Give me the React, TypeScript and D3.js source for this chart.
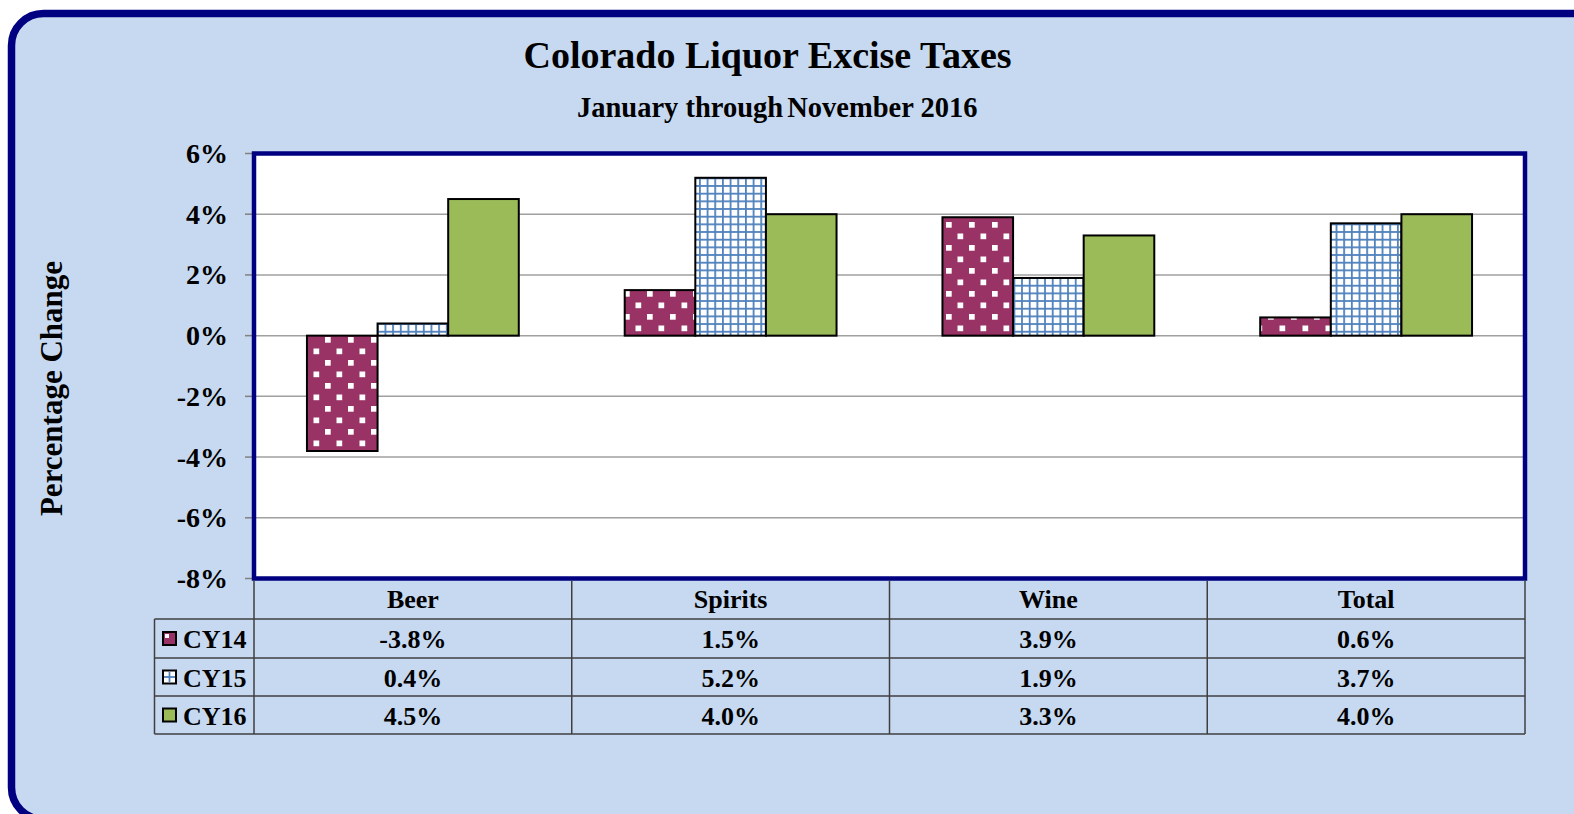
import React, { useEffect } from 'react';
import * as d3 from 'd3';

const categories = ['Beer', 'Spirits', 'Wine', 'Total'];
const seriesNames = ['CY14', 'CY15', 'CY16'];
const cy14 = [-3.8, 1.5, 3.9, 0.6];
const cy15 = [0.4, 5.2, 1.9, 3.7];
const cy16 = [4.5, 4.0, 3.3, 4.0];
const yTicks = [-8, -6, -4, -2, 0, 2, 4, 6];
const titleText = 'Colorado Liquor Excise Taxes';
const subtitleA = 'January through';
const subtitleB = 'November 2016';
const yAxisTitle = 'Percentage Change';

const FONT = "'Liberation Serif','Times New Roman',serif";
const NAVY = '#000080';
const BG = '#C6D9F1';
const MAROON = '#993366';
const BLUE = '#4F81BD';
const GREEN = '#9BBB59';
const LINE = '#3F3F3F';

const locale = d3.formatLocale({
  decimal: '.',
  thousands: ',',
  grouping: [3],
  currency: ['$', ''],
  minus: '-',
});

export default function App() {
  useEffect(() => {
    document.body.style.margin = '0';
    document.body.style.overflow = 'hidden';
  }, []);

  const W = 1574;
  const H = 814;
  const plot = { x0: 254, x1: 1525, y0: 153.5, y1: 578.5 };
  const x = d3.scaleBand<string>().domain(categories).range([plot.x0, plot.x1]);
  const xs = d3
    .scaleBand<string>()
    .domain(seriesNames)
    .range([0, x.bandwidth()])
    .paddingInner(0)
    .paddingOuter(0.75);
  const y = d3.scaleLinear().domain([-8, 6]).range([plot.y1, plot.y0]);
  const values = [cy14, cy15, cy16];
  const fills = ['url(#pCY14)', 'url(#pCY15)', GREEN];
  const f1 = locale.format('.1f');
  const f0 = locale.format('d');
  const fmt = (v: number) => f1(v) + '%';
  const tickFmt = (v: number) => f0(v) + '%';

  const rowEdges = [plot.y1, 619, 658, 696, 734];
  const legendX0 = 154.5;
  const colEdges = [plot.x0, ...categories.map((c) => (x(c) as number) + x.bandwidth())];

  const rowCenter = (i: number) => (rowEdges[i] + rowEdges[i + 1]) / 2;

  const legendKey = (i: number, cy: number) => {
    const kx = 163;
    const ks = 13;
    const ky = cy - ks / 2;
    if (i === 0) {
      return (
        <g>
          <rect x={kx} y={ky} width={ks} height={ks} fill={MAROON} stroke="#000" strokeWidth={2} />
          <rect x={kx + 2} y={ky + 2} width={4} height={4} fill="#fff" />
        </g>
      );
    }
    if (i === 1) {
      return (
        <g>
          <rect x={kx} y={ky} width={ks} height={ks} fill="#fff" stroke="#000" strokeWidth={2} />
          <line x1={kx + ks / 2} x2={kx + ks / 2} y1={ky + 1} y2={ky + ks - 1} stroke={BLUE} strokeWidth={1.8} />
          <line x1={kx + 1} x2={kx + ks - 1} y1={ky + ks / 2} y2={ky + ks / 2} stroke={BLUE} strokeWidth={1.8} />
        </g>
      );
    }
    return <rect x={kx} y={ky} width={ks} height={ks} fill={GREEN} stroke="#000" strokeWidth={2} />;
  };

  return (
    <svg
      width={W}
      height={H}
      style={{ position: 'absolute', left: 0, top: 0, display: 'block', overflow: 'hidden' }}
      fontFamily={FONT}
    >
      <defs>
        <pattern id="pCY14" patternUnits="userSpaceOnUse" x={3} y={15} width={23} height={23}>
          <rect x={0} y={0} width={23} height={23} fill={MAROON} />
          <rect x={0} y={0} width={5.7} height={5.7} fill="#fff" />
          <rect x={11.5} y={11.5} width={5.7} height={5.7} fill="#fff" />
        </pattern>
        <pattern id="pCY15" patternUnits="userSpaceOnUse" x={1} y={1} width={7.67} height={7.67}>
          <rect x={0} y={0} width={7.67} height={7.67} fill="#fff" />
          <rect x={0} y={0} width={1.8} height={7.67} fill={BLUE} />
          <rect x={0} y={0} width={7.67} height={1.8} fill={BLUE} />
        </pattern>
      </defs>

      {/* outer background */}
      <rect x={11.5} y={13.5} width={1600} height={806} rx={32} ry={32} fill={BG} stroke={NAVY} strokeWidth={7.5} />

      {/* titles */}
      <text x={767.5} y={68} textAnchor="middle" fontSize={38} fontWeight="bold" fill="#000">
        {titleText}
      </text>
      <text x={577} y={117} fontSize={28.5} fontWeight="bold" fill="#000">
        {subtitleA}
        <tspan dx={4}>{subtitleB}</tspan>
      </text>

      {/* y axis title */}
      <text
        transform={`translate(62, 388.5) rotate(-90)`}
        textAnchor="middle"
        fontSize={31}
        fontWeight="bold"
        fill="#000"
      >
        {yAxisTitle}
      </text>

      {/* plot area */}
      <rect x={plot.x0} y={plot.y0} width={plot.x1 - plot.x0} height={plot.y1 - plot.y0} fill="#fff" />
      {yTicks.map((t) => (
        <g key={t}>
          {t > -8 && t < 6 && (
            <line x1={plot.x0} x2={plot.x1} y1={y(t)} y2={y(t)} stroke="#A0A0A0" strokeWidth={1.5} />
          )}
          <line x1={245} x2={plot.x0} y1={y(t)} y2={y(t)} stroke="#808080" strokeWidth={1.5} />
          <text x={228} y={y(t) + 9.5} textAnchor="end" fontSize={28} fontWeight="bold" fill="#000">
            {tickFmt(t)}
          </text>
        </g>
      ))}

      {/* bars */}
      {values.map((vals, si) =>
        vals.map((v, ci) => {
          const bx = (x(categories[ci]) as number) + (xs(seriesNames[si]) as number);
          const top = Math.min(y(v), y(0));
          const h = Math.abs(y(v) - y(0));
          return (
            <rect
              key={`${si}-${ci}`}
              x={bx}
              y={top}
              width={xs.bandwidth()}
              height={h}
              fill={fills[si]}
              stroke="#000"
              strokeWidth={2}
            />
          );
        })
      )}

      {/* plot border */}
      <rect
        x={plot.x0}
        y={plot.y0}
        width={plot.x1 - plot.x0}
        height={plot.y1 - plot.y0}
        fill="none"
        stroke={NAVY}
        strokeWidth={4.5}
      />

      {/* data table */}
      {rowEdges.slice(1).map((ry, i) => (
        <line key={`h${i}`} x1={legendX0} x2={plot.x1} y1={ry} y2={ry} stroke={LINE} strokeWidth={1.5} />
      ))}
      <line x1={legendX0} x2={legendX0} y1={rowEdges[1]} y2={rowEdges[4]} stroke={LINE} strokeWidth={1.5} />
      {colEdges.map((cx, i) => (
        <line key={`v${i}`} x1={cx} x2={cx} y1={plot.y1 + 2} y2={rowEdges[4]} stroke={LINE} strokeWidth={1.5} />
      ))}
      {categories.map((c) => (
        <text
          key={c}
          x={(x(c) as number) + x.bandwidth() / 2}
          y={rowCenter(0) + 9.5}
          textAnchor="middle"
          fontSize={26}
          fontWeight="bold"
          fill="#000"
        >
          {c}
        </text>
      ))}
      {seriesNames.map((s, si) => (
        <g key={s}>
          {legendKey(si, rowCenter(si + 1))}
          <text x={183} y={rowCenter(si + 1) + 9.5} fontSize={26} fontWeight="bold" fill="#000">
            {s}
          </text>
          {values[si].map((v, ci) => (
            <text
              key={ci}
              x={(x(categories[ci]) as number) + x.bandwidth() / 2}
              y={rowCenter(si + 1) + 9.5}
              textAnchor="middle"
              fontSize={26}
              fontWeight="bold"
              fill="#000"
            >
              {fmt(v)}
            </text>
          ))}
        </g>
      ))}
    </svg>
  );
}
